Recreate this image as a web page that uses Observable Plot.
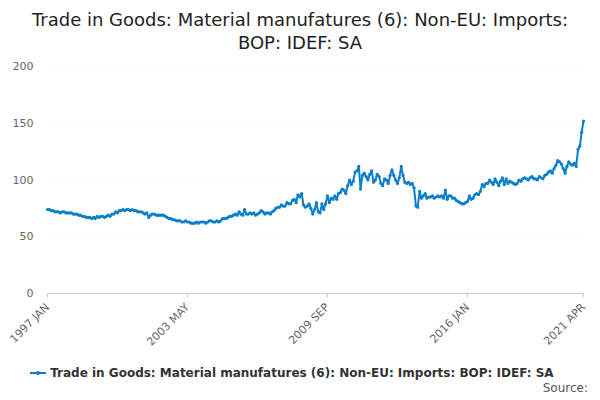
<!DOCTYPE html>
<html><head><meta charset="utf-8">
<script src="https://cdn.jsdelivr.net/npm/d3@7"></script>
<script src="https://cdn.jsdelivr.net/npm/@observablehq/plot@0.6"></script>
<style>
body{margin:0;font-family:"DejaVu Sans",sans-serif;background:#fff;width:600px;height:400px;overflow:hidden;position:relative}
h1{font-size:18px;font-weight:normal;text-align:center;margin:8px 0 0 0;line-height:23px;color:#222}
#leg{position:absolute;top:366px;left:30px;font-size:12px;font-weight:bold;color:#333;display:flex;align-items:center}
#src{position:absolute;top:381px;right:12px;font-size:12px;color:#555}
</style></head><body>
<h1>Trade in Goods: Material manufatures (6): Non-EU: Imports:<br>BOP: IDEF: SA</h1>
<div id="chart"></div>
<div id="leg"><svg width="16" height="10"><line x1="0" y1="5" x2="16" y2="5" stroke="#0b7fc7" stroke-width="2"/><circle cx="8" cy="5" r="2" fill="#0b7fc7"/></svg>&nbsp;Trade in Goods: Material manufatures (6): Non-EU: Imports: BOP: IDEF: SA</div>
<div id="src">Source:</div>
<script>
const startYear = 1997;
const values = [
74,74,73,73,72,72,72,71,72,72,71,71,
71,71,70,70,70,69,69,68,68,67,67,67,
66,67,66,68,67,68,68,67,68,69,68,70,
70,72,71,73,73,74,73,74,74,73,74,73,
73,72,72,72,71,70,71,67,69,70,70,69,
69,69,69,69,68,67,66,66,65,65,64,64,
64,63,63,64,63,63,62,62,62,63,62,63,
63,63,62,63,64,64,63,63,64,63,64,66,
66,66,67,68,68,69,70,69,72,70,69,74,
70,70,71,70,71,69,70,71,73,72,70,71,
71,70,72,73,75,76,76,78,77,77,80,79,
79,82,83,80,87,85,88,78,76,77,79,75,
70,74,80,72,71,79,74,79,86,80,84,83,
86,83,88,89,92,91,88,95,100,96,99,107,
108,112,92,104,106,103,100,105,108,98,100,105,
103,97,95,101,100,97,104,109,104,100,97,102,
112,104,98,97,98,96,97,93,77,76,90,84,
86,88,84,85,85,86,84,85,86,85,86,84,
91,83,86,86,84,84,82,81,80,79,79,80,
81,86,83,84,87,88,87,90,96,94,97,97,
100,98,96,101,98,95,99,102,96,101,97,99,
98,97,96,97,100,99,101,102,101,100,102,103,
101,101,100,103,102,101,104,105,107,108,106,110,
113,117,116,114,110,106,112,116,114,113,115,112,
127,130,142,152];
const tickLabels = ["1997 JAN","2003 MAY","2009 SEP","2016 JAN","2021 APR"];
const yTicks = [0,50,100,150,200];
const data = values.map((v,i)=>({date:new Date(startYear, i, 1), value:v}));
const fmt = d3.timeFormat("%Y %b");
const tickDates = tickLabels.map(s=>{const [y,m]=s.split(" ");return d3.timeParse("%Y %b")(y+" "+m[0]+m.slice(1).toLowerCase());});
const chart = Plot.plot({
  width:600, height:301,
  marginLeft:47, marginRight:17, marginTop:12, marginBottom:62,
  style:{fontFamily:"DejaVu Sans",fontSize:"11px",color:"#666"},
  x:{type:"time", ticks:tickDates, tickFormat:d=>fmt(d).toUpperCase(), tickRotate:-45, label:null, tickSize:0},
  y:{domain:[0,200], ticks:yTicks, label:null, grid:true, tickSize:0, tickPadding:14},
  marks:[
    Plot.ruleY([0],{stroke:"#ccc"}),
    Plot.ruleX(tickDates,{y1:0,y2:-4,stroke:"#ccc"}),
    Plot.line(data,{x:"date",y:"value",stroke:"#0b7fc7",strokeWidth:2}),
    Plot.dot(data,{x:"date",y:"value",fill:"#0b7fc7",r:1.6})
  ]
});
chart.querySelectorAll("[aria-label='y-grid'] line").forEach(l=>l.setAttribute("stroke","#ddd"));
document.getElementById("chart").appendChild(chart);
</script>
</body></html>
